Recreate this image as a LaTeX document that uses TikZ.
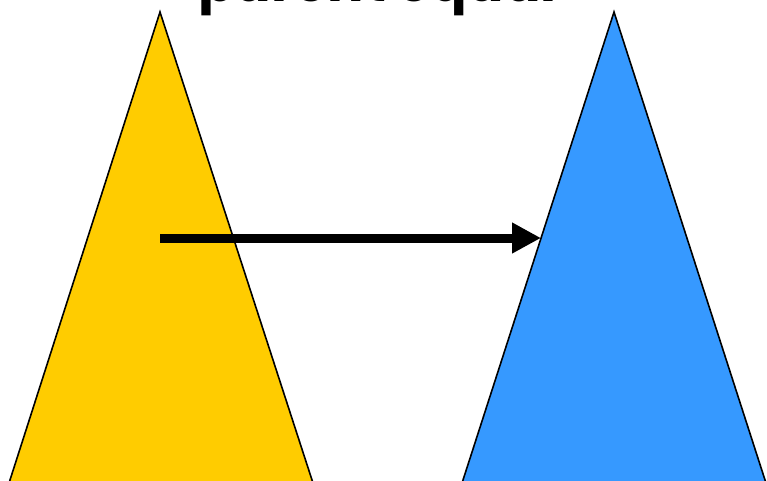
\documentclass[tikz,border=0pt]{standalone}
\usepackage{fontspec}
\newfontfamily\titlefont{Poppins}
\usetikzlibrary{arrows.meta,calc}
\definecolor{tyellow}{RGB}{255,204,0}
\definecolor{tblue}{RGB}{54,153,255}
\tikzset{
  tri/.style={draw=black, line width=1.6pt, line join=miter},
  bigarrow/.style={line width=9pt, -{Triangle[length=29pt,width=29pt]}},
  title/.style={font=\titlefont\bfseries\fontsize{54}{60}\selectfont, anchor=base west, inner sep=0pt}
}
\begin{document}
\begin{tikzpicture}[x=1pt,y=-1pt]
  \useasboundingbox (0,0) rectangle (767,480);
  % triangles (extended beyond the bottom edge, clipped by the page)
  \coordinate (ya) at (160,12);
  \coordinate (ba) at (614,12);
  \draw[tri, fill=tyellow] (ya) -- ($(ya)!1.0534!(10,480)$) -- ($(ya)!1.0534!(312,480)$) -- cycle;
  \draw[tri, fill=tblue] (ba) -- ($(ba)!1.0534!(463,480)$) -- ($(ba)!1.0534!(765,480)$) -- cycle;
  % arrow
  \coordinate (start) at (160,238);
  \coordinate (tip) at (541,238);
  \draw[bigarrow] (start) -- (tip);
  % title (cut off by the top edge, as in the reference)
  \node[title] (t) at (198,1) {parent equal};
\end{tikzpicture}
\end{document}
